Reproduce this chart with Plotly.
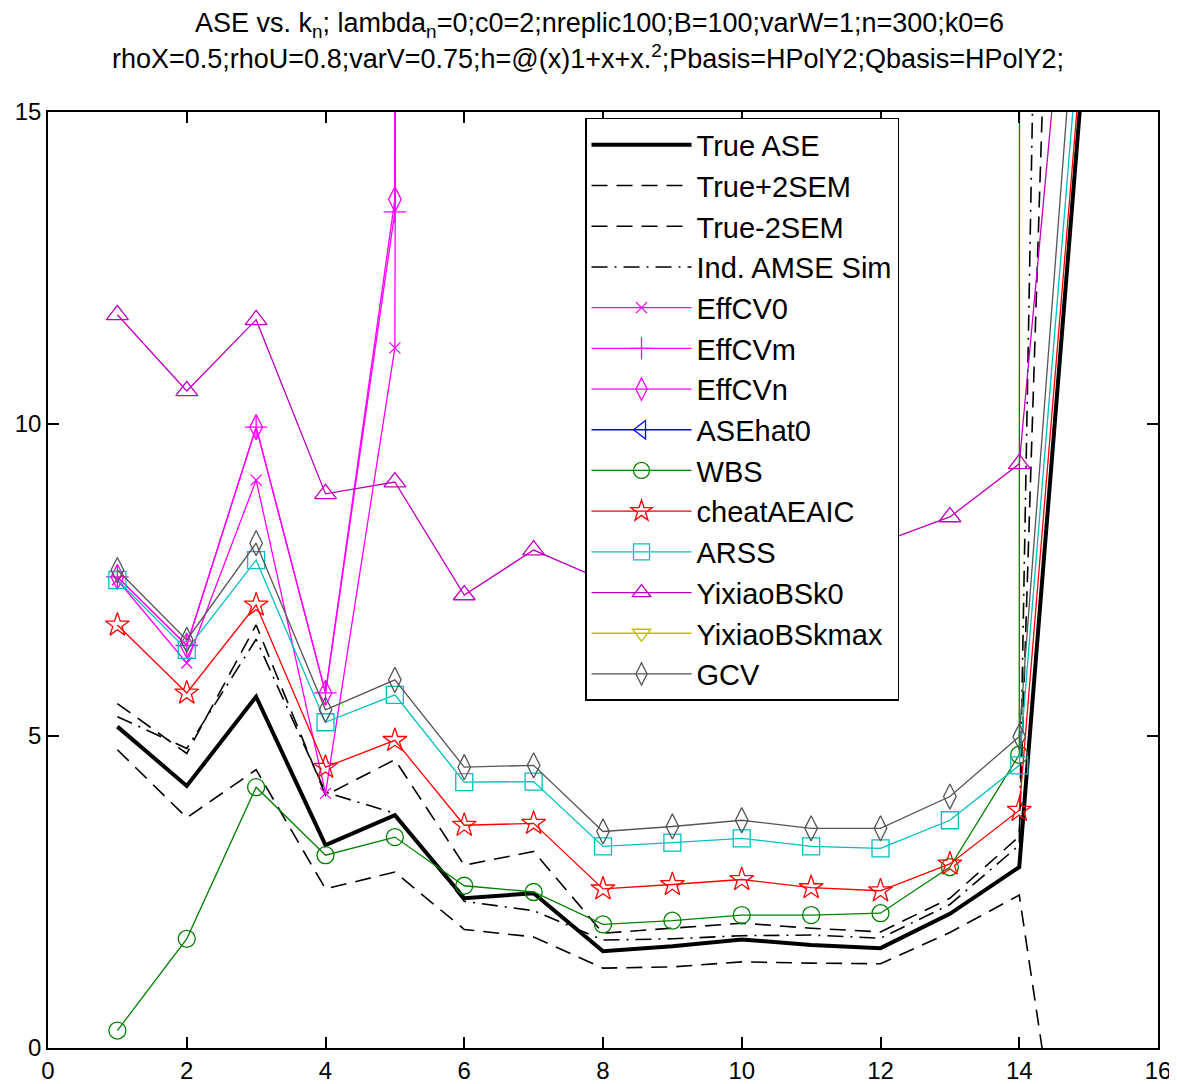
import plotly.graph_objects as go

k = list(range(1, 16))
BIG = 5000.0
NAN = float("nan")

true_ase   = [5.15, 4.20, 5.63, 3.25, 3.73, 2.40, 2.48, 1.55, 1.63, 1.74, 1.65, 1.60, 2.15, 2.90, 16.8]
true_plus  = [5.52, 4.72, 6.78, 4.05, 4.62, 2.93, 3.15, 1.84, 1.92, 2.00, 1.92, 1.86, 2.40, 3.39, 38.5]
true_minus = [4.78, 3.69, 4.46, 2.55, 2.82, 1.90, 1.78, 1.28, 1.30, 1.38, 1.36, 1.35, 1.85, 2.45, -5.0]
ind_amse   = [5.31, 4.80, 6.55, 4.10, 3.76, 2.35, 2.20, 1.73, 1.75, 1.80, 1.81, 1.76, 2.30, 3.25, 65.0]
effcv0     = [7.50, 6.17, 9.10, 4.08, 11.22, BIG, BIG, BIG, BIG, BIG, BIG, BIG, BIG, BIG, BIG]
effcvm     = [7.55, 6.45, 9.95, 5.69, 13.40, BIG, BIG, BIG, BIG, BIG, BIG, BIG, BIG, BIG, BIG]
effcvn     = [7.55, 6.45, 9.95, 5.69, 13.60, BIG, BIG, BIG, BIG, BIG, BIG, BIG, BIG, BIG, BIG]
asehat0    = [NAN] * 15
wbs        = [0.28, 1.75, 4.18, 3.09, 3.38, 2.60, 2.50, 1.98, 2.04, 2.13, 2.13, 2.16, 2.90, 4.70, 3000.0]
cheat      = [6.78, 5.69, 7.10, 4.50, 4.93, 3.57, 3.60, 2.55, 2.62, 2.70, 2.57, 2.52, 2.95, 3.81, 17.3]
arss       = [7.50, 6.38, 7.82, 5.22, 5.66, 4.26, 4.27, 3.23, 3.29, 3.36, 3.23, 3.20, 3.65, 4.53, 18.1]
yix_k0     = [11.75, 10.53, 11.67, 8.88, 9.07, 7.26, 7.98, 7.50, 7.65, 7.80, 7.95, 8.10, 8.51, 9.36, 21.4]
yix_kmax   = [NAN] * 15
gcv        = [7.66, 6.54, 8.09, 5.42, 5.90, 4.50, 4.53, 3.47, 3.55, 3.65, 3.52, 3.52, 4.03, 4.99, 19.6]

x_ticks = [0, 2, 4, 6, 8, 10, 12, 14, 16]
y_ticks = [0, 5, 10, 15]

FONT = "Liberation Sans, Arial"

series = [
    ("True ASE", true_ase, dict(color="black", width=4), None),
    ("True+2SEM", true_plus, dict(color="black", width=1.6, dash="16px,9px"), None),
    ("True-2SEM", true_minus, dict(color="black", width=1.6, dash="16px,9px"), None),
    ("Ind. AMSE Sim", ind_amse, dict(color="black", width=1.6, dash="16px,7px,2px,7px"), None),
    ("EffCV0", effcv0, dict(color="#FF00FF", width=1.3), dict(symbol="x-thin-open", size=11)),
    ("EffCVm", effcvm, dict(color="#FF00FF", width=1.3), dict(symbol="cross-thin-open", size=16)),
    ("EffCVn", effcvn, dict(color="#FF00FF", width=1.3), dict(symbol="diamond-tall-open", size=18)),
    ("ASEhat0", asehat0, dict(color="#0000FF", width=1.3), dict(symbol="triangle-left-open", size=17)),
    ("WBS", wbs, dict(color="#008000", width=1.3), dict(symbol="circle-open", size=17)),
    ("cheatAEAIC", cheat, dict(color="#FF0000", width=1.3), dict(symbol="star-open", size=18)),
    ("ARSS", arss, dict(color="#00BFBF", width=1.3), dict(symbol="square-open", size=17)),
    ("YixiaoBSk0", yix_k0, dict(color="#BF00BF", width=1.3), dict(symbol="triangle-up-open", size=19)),
    ("YixiaoBSkmax", yix_kmax, dict(color="#BFBF00", width=1.3), dict(symbol="triangle-down-open", size=19)),
    ("GCV", gcv, dict(color="#555555", width=1.3), dict(symbol="diamond-tall-open", size=18)),
]

fig = go.Figure()
for name, ys, line, marker in series:
    if marker is None:
        fig.add_trace(go.Scatter(x=k, y=ys, name=name, mode="lines", line=line,
                                 legendgroup=name))
    else:
        m = dict(marker)
        m["color"] = line["color"]
        m["line"] = dict(color=line["color"], width=1.3)
        fig.add_trace(go.Scatter(x=k, y=ys, name=name, mode="lines+markers", line=line,
                                 marker=m, legendgroup=name))

axis_common = dict(showline=True, linecolor="black", linewidth=1.5, mirror="ticks",
                   ticks="inside", ticklen=11, tickwidth=1.5, tickcolor="black",
                   showgrid=False, zeroline=False, automargin=False,
                   tickfont=dict(family=FONT, size=24, color="black"))

fig.update_layout(
    width=1169, height=1076,
    margin=dict(l=40, r=19, t=104, b=36, autoexpand=False),
    paper_bgcolor="white", plot_bgcolor="white",
    xaxis=dict(range=[0, 16], tickvals=x_ticks, **axis_common),
    yaxis=dict(range=[0, 15], tickvals=y_ticks, **axis_common),
    showlegend=True,
    legend=dict(x=0.4838, y=0.9936, xanchor="left", yanchor="top",
                bgcolor="white", bordercolor="black", borderwidth=1.5,
                font=dict(family=FONT, size=29, color="black"),
                itemwidth=100, tracegroupgap=0),
    font=dict(family=FONT, color="black"),
    annotations=[
        dict(text="ASE vs. k<sub>n</sub>; lambda<sub>n</sub>=0;c0=2;nreplic100;B=100;varW=1;n=300;k0=6",
             xref="paper", yref="paper", x=0.5, y=1.0, yshift=87, xshift=-4,
             xanchor="center", yanchor="middle",
             showarrow=False, font=dict(family=FONT, size=27, color="black")),
        dict(text="rhoX=0.5;rhoU=0.8;varV=0.75;h=@(x)1+x+x.<sup>2</sup>;Pbasis=HPolY2;Qbasis=HPolY2;",
             xref="paper", yref="paper", x=0.5, y=1.0, yshift=55, xshift=-15,
             xanchor="center", yanchor="middle",
             showarrow=False, font=dict(family=FONT, size=27, color="black")),
    ],
)

fig.write_html("out.html")
